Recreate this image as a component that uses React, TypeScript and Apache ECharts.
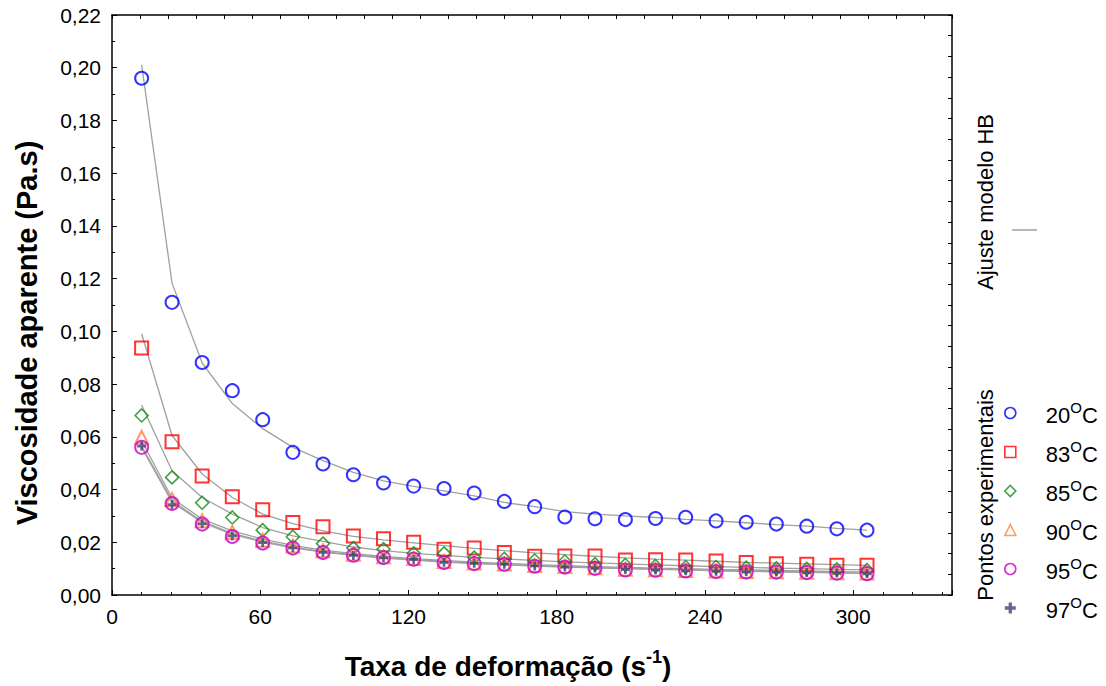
import React, { useEffect, useRef } from "react";
import * as echarts from "echarts";

// Shear rate (s^-1)
const shearRate = [12.0, 24.3, 36.5, 48.7, 61.0, 73.2, 85.4, 97.7, 109.9, 122.1, 134.4, 146.6, 158.8, 171.1, 183.3, 195.5, 207.8, 220.0, 232.2, 244.5, 256.7, 268.9, 281.2, 293.4, 305.6];

// Experimental points (Pa.s)
const pts20 = [0.196, 0.111, 0.0882, 0.0775, 0.0665, 0.0541, 0.0497, 0.0456, 0.0425, 0.0413, 0.0404, 0.0387, 0.0355, 0.0335, 0.0296, 0.0289, 0.0286, 0.0290, 0.0295, 0.0281, 0.0276, 0.0269, 0.0261, 0.0251, 0.0246];
const pts83 = [0.0937, 0.0581, 0.0451, 0.0373, 0.0323, 0.0275, 0.0259, 0.0224, 0.0213, 0.0200, 0.0174, 0.0178, 0.0161, 0.0147, 0.0148, 0.0148, 0.0133, 0.0134, 0.0133, 0.0129, 0.0123, 0.0119, 0.0117, 0.0113, 0.0113];
const pts85 = [0.0681, 0.0446, 0.0350, 0.0294, 0.0246, 0.0221, 0.0195, 0.0178, 0.0174, 0.0158, 0.0158, 0.0142, 0.0137, 0.0131, 0.0127, 0.0117, 0.0114, 0.0110, 0.0106, 0.0106, 0.0104, 0.0101, 0.0099, 0.0097, 0.0095];
const pts90 = [0.0598, 0.0362, 0.0282, 0.0238, 0.0208, 0.0186, 0.0168, 0.0155, 0.0145, 0.0138, 0.0127, 0.0121, 0.0118, 0.0112, 0.0108, 0.0103, 0.0098, 0.0096, 0.0093, 0.0091, 0.0089, 0.0088, 0.0086, 0.0084, 0.0083];
const pts95 = [0.0560, 0.0347, 0.0269, 0.0222, 0.0197, 0.0178, 0.0161, 0.0151, 0.0142, 0.0136, 0.0123, 0.0119, 0.0117, 0.0109, 0.0106, 0.0101, 0.0095, 0.0094, 0.0091, 0.0089, 0.0087, 0.0087, 0.0085, 0.0083, 0.0081];
const pts97 = [0.0565, 0.0343, 0.0270, 0.0224, 0.0199, 0.0179, 0.0162, 0.0150, 0.0141, 0.0135, 0.0124, 0.0120, 0.0117, 0.0110, 0.0106, 0.0102, 0.0097, 0.0095, 0.0092, 0.0090, 0.0088, 0.0087, 0.0085, 0.0083, 0.0082];

// HB model fit (Pa.s)
const fit20 = [0.2011, 0.1183, 0.0880, 0.0726, 0.0631, 0.0560, 0.0510, 0.0465, 0.0433, 0.0412, 0.0395, 0.0376, 0.0351, 0.0335, 0.0316, 0.0307, 0.0300, 0.0294, 0.0287, 0.0281, 0.0274, 0.0267, 0.0261, 0.0253, 0.0246];
const fit83 = [0.0991, 0.0605, 0.0459, 0.0370, 0.0307, 0.0271, 0.0243, 0.0222, 0.0209, 0.0198, 0.0187, 0.0177, 0.0168, 0.0160, 0.0153, 0.0147, 0.0141, 0.0136, 0.0132, 0.0128, 0.0124, 0.0121, 0.0118, 0.0115, 0.0112];
const fit85 = [0.0721, 0.0471, 0.0370, 0.0307, 0.0256, 0.0224, 0.0203, 0.0182, 0.0168, 0.0158, 0.0150, 0.0143, 0.0137, 0.0131, 0.0126, 0.0122, 0.0118, 0.0114, 0.0111, 0.0108, 0.0105, 0.0102, 0.0100, 0.0097, 0.0095];
const fit90 = [0.0585, 0.0368, 0.0288, 0.0243, 0.0212, 0.0188, 0.0170, 0.0157, 0.0146, 0.0138, 0.0131, 0.0125, 0.0120, 0.0115, 0.0111, 0.0108, 0.0105, 0.0102, 0.0100, 0.0097, 0.0095, 0.0093, 0.0091, 0.0089, 0.0087];
const fit95 = [0.0565, 0.0358, 0.0279, 0.0234, 0.0204, 0.0182, 0.0165, 0.0152, 0.0142, 0.0134, 0.0127, 0.0121, 0.0116, 0.0112, 0.0108, 0.0104, 0.0101, 0.0098, 0.0096, 0.0093, 0.0091, 0.0089, 0.0087, 0.0085, 0.0083];
const fit97 = [0.0560, 0.0352, 0.0275, 0.0230, 0.0201, 0.0179, 0.0163, 0.0150, 0.0140, 0.0132, 0.0125, 0.0119, 0.0115, 0.0110, 0.0106, 0.0103, 0.0100, 0.0097, 0.0095, 0.0092, 0.0090, 0.0088, 0.0086, 0.0084, 0.0082];

const tempLabels = ["20", "83", "85", "90", "95", "97"];

const FONT = '"Liberation Sans", Arial, sans-serif';
const PLUS = "path://M3.5,0H6.5V3.5H10V6.5H6.5V10H3.5V6.5H0V3.5H3.5Z";

const pair = (ys: number[]) => shearRate.map((x, i) => [x, ys[i]]);

export default function App() {
  const ref = useRef<HTMLDivElement>(null);
  useEffect(() => {
    if (!ref.current) return;
    const chart = echarts.init(ref.current, undefined, { renderer: "svg" });

    const pointDefs = [
      { data: pts20, symbol: "circle", size: 13, color: "#0000ff", fill: "rgba(0,0,0,0)", bw: 2 },
      { data: pts83, symbol: "rect", size: 13, color: "#ff0000", fill: "rgba(0,0,0,0)", bw: 2 },
      { data: pts85, symbol: "diamond", size: 13, color: "#108a10", fill: "rgba(0,0,0,0)", bw: 1.6 },
      { data: pts90, symbol: "triangle", size: 13, color: "#ff7f40", fill: "rgba(0,0,0,0)", bw: 2 },
      { data: pts95, symbol: "circle", size: 13, color: "#c800c8", fill: "rgba(0,0,0,0)", bw: 2 },
      { data: pts97, symbol: PLUS, size: 9, color: "#40407a", fill: "#40407a", bw: 0 },
    ];
    const fits = [fit20, fit83, fit85, fit90, fit95, fit97];

    const names = tempLabels.map((t) => t + "C");

    const series: any[] = [];
    fits.forEach((f, i) => {
      series.push({
        type: "line",
        name: "fit" + i,
        data: pair(f),
        showSymbol: false,
        symbol: "none",
        lineStyle: { color: "#a0a0a0", width: 1.3 },
        z: 1,
      });
    });
    pointDefs.forEach((p, i) => {
      series.push({
        type: "scatter",
        name: names[i],
        data: pair(p.data),
        symbol: p.symbol,
        symbolSize: p.size,
        itemStyle: { color: p.fill, borderColor: p.color, borderWidth: p.bw },
        z: 3,
      });
    });

    const legendData = pointDefs.map((p, i) => ({
      name: names[i],
      icon: p.symbol,
      itemStyle: { color: p.fill, borderColor: p.color, borderWidth: p.bw === 0 ? 0 : 1.6 },
    }));

    chart.setOption({
      animation: false,
      backgroundColor: "#ffffff",
      grid: { left: 112, top: 15, width: 840, height: 580, containLabel: false },
      xAxis: [
        {
          type: "value",
          min: 0,
          max: 340,
          interval: 60,
          position: "bottom",
          axisLine: { show: true, onZero: false, lineStyle: { color: "#000", width: 1.5 } },
          axisTick: { show: true, inside: true, length: 5, lineStyle: { color: "#000" } },
          minorTick: { show: true, splitNumber: 5, length: 3, lineStyle: { color: "#000" } },
          splitLine: { show: false },
          axisLabel: { color: "#000", fontSize: 21, fontFamily: FONT, margin: 11, showMaxLabel: false },
        },
        {
          type: "value",
          min: 0,
          max: 30,
          interval: 1,
          position: "top",
          axisLine: { show: true, onZero: false, lineStyle: { color: "#000", width: 1.5 } },
          axisTick: { show: true, inside: true, length: 4, lineStyle: { color: "#000" } },
          splitLine: { show: false },
          axisLabel: { show: false },
        },
      ],
      yAxis: [
        {
          type: "value",
          min: 0,
          max: 0.22,
          interval: 0.02,
          position: "left",
          axisLine: { show: true, onZero: false, lineStyle: { color: "#000", width: 1.5 } },
          axisTick: { show: true, inside: true, length: 5, lineStyle: { color: "#000" } },
          minorTick: { show: true, splitNumber: 2, length: 3, lineStyle: { color: "#000" } },
          splitLine: { show: false },
          axisLabel: {
            color: "#000",
            fontSize: 21,
            fontFamily: FONT,
            margin: 11,
            formatter: (v: number) => v.toFixed(2).replace(".", ","),
          },
        },
        {
          type: "value",
          min: 0,
          max: 28,
          interval: 1,
          position: "right",
          axisLine: { show: true, onZero: false, lineStyle: { color: "#000", width: 1.5 } },
          axisTick: { show: true, inside: true, length: 4, lineStyle: { color: "#000" } },
          splitLine: { show: false },
          axisLabel: { show: false },
        },
      ],
      legend: {
        orient: "vertical",
        left: 1004,
        top: 400,
        padding: 0,
        itemWidth: 11,
        itemHeight: 11,
        itemGap: 13,
        selectedMode: false,
        data: legendData,
        formatter: (name: string) => "{n|" + name.replace("C", "") + "}{s|O}{n|C}",
        textStyle: {
          color: "#000",
          fontFamily: FONT,
          fontSize: 22,
          padding: [0, 0, 0, 25],
          rich: {
            n: { fontSize: 22, fontFamily: FONT, color: "#000", lineHeight: 26, verticalAlign: "bottom" },
            s: { fontSize: 15, fontFamily: FONT, color: "#000", lineHeight: 14, verticalAlign: "top" },
          },
        },
      },
      graphic: [
        {
          type: "text",
          x: 27,
          y: 333,
          rotation: Math.PI / 2,
          style: {
            text: "Viscosidade aparente (Pa.s)",
            fontSize: 29,
            fontWeight: "bold",
            fontFamily: FONT,
            fill: "#000",
            align: "center",
            verticalAlign: "middle",
          },
        },
        {
          type: "text",
          x: 508,
          y: 664,
          style: {
            text: "{b|Taxa de deformação (s}{s|-1}{b|)}",
            fill: "#000",
            align: "center",
            verticalAlign: "middle",
            rich: {
              b: { fontSize: 28, fontWeight: "bold", fontFamily: FONT, fill: "#000", lineHeight: 32, verticalAlign: "bottom" },
              s: { fontSize: 18, fontWeight: "bold", fontFamily: FONT, fill: "#000", lineHeight: 18, verticalAlign: "top" },
            },
          },
        },
        {
          type: "text",
          x: 985,
          y: 202,
          rotation: Math.PI / 2,
          style: {
            text: "Ajuste modelo HB",
            fontSize: 22,
            fontFamily: FONT,
            fill: "#000",
            align: "center",
            verticalAlign: "middle",
          },
        },
        {
          type: "line",
          shape: { x1: 1012, y1: 230, x2: 1037, y2: 230 },
          style: { stroke: "#a0a0a0", lineWidth: 1.5 },
        },
        {
          type: "text",
          x: 985,
          y: 495,
          rotation: Math.PI / 2,
          style: {
            text: "Pontos experimentais",
            fontSize: 22,
            fontFamily: FONT,
            fill: "#000",
            align: "center",
            verticalAlign: "middle",
          },
        },
      ],
      series,
    });

    return () => chart.dispose();
  }, []);

  return (
    <div
      ref={ref}
      style={{ position: "fixed", left: 0, top: 0, width: 1106, height: 686, background: "#fff" }}
    />
  );
}
